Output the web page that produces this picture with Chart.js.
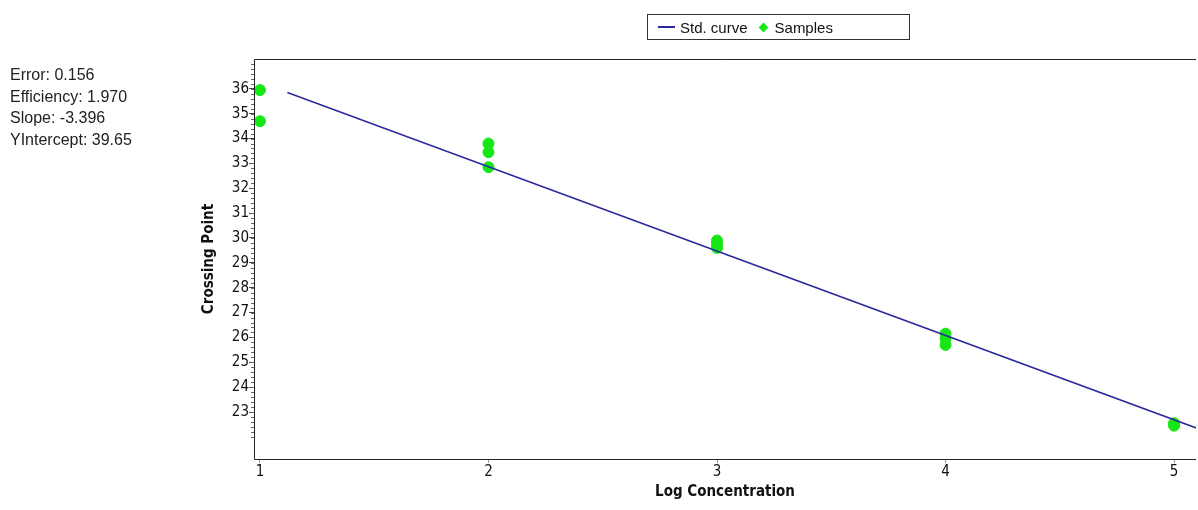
<!DOCTYPE html>
<html>
<head>
<meta charset="utf-8">
<script src="https://cdn.jsdelivr.net/npm/chart.js@4/dist/chart.umd.min.js"></script>
<style>
  html, body { margin: 0; padding: 0; background: #fff; overflow: hidden; }
  #wrap { position: relative; width: 1198px; height: 510px; }
  canvas { display: block; }
  #stats {
    position: absolute; left: 10px; top: 64px;
    font: 16px "Liberation Sans", Arial, sans-serif; color: #222; line-height: 21.5px;
  }
  #leyenda {
    position: absolute; left: 647px; top: 14px; width: 263px; height: 26px;
    border: 1px solid #333; box-sizing: border-box;
    font: 15px "Liberation Sans", Arial, sans-serif; color: #111;
    display: flex; align-items: center; padding-left: 10px;
  }
  .swLinea { display: inline-block; width: 17px; height: 2px; background: #2a2a9c; margin-right: 5px; }
  .swPunto { display: inline-block; width: 7px; height: 7px; background: #17e617; transform: rotate(45deg); margin: 0 8px 0 12px; }
</style>
</head>
<body>
<div id="wrap">
  <canvas id="grafica" width="1198" height="510"></canvas>
  <div id="stats"></div>
  <div id="leyenda"></div>
</div>
<script>
// Datos
const estadisticas = ['Error: 0.156', 'Efficiency: 1.970', 'Slope: -3.396', 'YIntercept: 39.65'];

const muestrasX = [1, 1, 2, 2, 2, 3, 3, 3, 4, 4, 4, 5, 5];
const muestrasY = [35.95, 34.7, 33.8, 33.45, 32.85, 29.9, 29.75, 29.6, 26.15, 25.95, 25.7, 22.55, 22.45];

// Recta estándar (extremos)
const curvaX = [1.12, 5.1];
const curvaY = [35.85, 22.35];

const ticksX = [1, 2, 3, 4, 5];
const ticksY = [23, 24, 25, 26, 27, 28, 29, 30, 31, 32, 33, 34, 35, 36];

const etiquetas = ['Std. curve', 'Samples'];

document.getElementById('stats').innerHTML = estadisticas.join('<br>');
document.getElementById('leyenda').innerHTML =
  '<span class="swLinea"></span>' + etiquetas[0] +
  '<span class="swPunto"></span>' + etiquetas[1];

const familia = '"Liberation Sans Narrow", "DejaVu Sans Condensed", "Liberation Sans", Arial';
const fuenteEje = { family: familia, size: 15 };
const fuenteTitulo = { family: familia, size: 15, weight: 'bold' };

// Marco del área y ticks menores del eje Y
const marco = {
  id: 'marco',
  afterDraw(chart) {
    const { ctx, chartArea: a } = chart;
    const y = chart.scales.y;
    ctx.save();
    ctx.strokeStyle = '#222';
    ctx.lineWidth = 1;
    ctx.beginPath();
    ctx.moveTo(a.right, a.top + 0.5);
    ctx.lineTo(a.left + 0.5, a.top + 0.5);
    ctx.lineTo(a.left + 0.5, a.bottom + 0.5);
    ctx.lineTo(a.right, a.bottom + 0.5);
    ctx.stroke();
    ctx.strokeStyle = '#666';
    ctx.beginPath();
    for (let i = 0; i <= 75; i++) {
      const v = 22 + i * 0.2;
      const py = Math.round(y.getPixelForValue(v)) + 0.5;
      ctx.moveTo(a.left - 3, py);
      ctx.lineTo(a.left, py);
    }
    ctx.stroke();
    ctx.restore();
  }
};

const ctx = document.getElementById('grafica').getContext('2d');
new Chart(ctx, {
  type: 'scatter',
  data: {
    datasets: [
      {
        label: etiquetas[0],
        data: curvaX.map((xi, i) => ({ x: xi, y: curvaY[i] })),
        borderColor: '#2a2a9c',
        backgroundColor: 'transparent',
        showLine: true,
        borderWidth: 1.5,
        pointRadius: 0
      },
      {
        label: etiquetas[1],
        data: muestrasX.map((xi, i) => ({ x: xi, y: muestrasY[i] })),
        backgroundColor: '#17e617',
        borderColor: '#17e617',
        pointRadius: 5.5,
        pointStyle: 'circle'
      }
    ]
  },
  options: {
    responsive: false,
    animation: false,
    layout: { autoPadding: false, padding: { left: 200, top: 59, right: 2, bottom: 9 } },
    plugins: { legend: { display: false }, tooltip: { enabled: false } },
    scales: {
      x: {
        type: 'linear',
        min: 0.974,
        max: 5.096,
        afterBuildTicks: (s) => { s.ticks = ticksX.map(v => ({ value: v })); },
        afterFit: (s) => { s.height = 42; s.paddingLeft = 0; s.paddingRight = 0; },
        border: { display: false },
        grid: { drawOnChartArea: false, tickLength: 4, color: '#999' },
        ticks: { color: '#111', font: fuenteEje, padding: 0 },
        title: { display: true, text: 'Log Concentration', color: '#111', font: fuenteTitulo, padding: { top: 0, bottom: 0 } }
      },
      y: {
        type: 'linear',
        min: 21.11,
        max: 37.2,
        afterBuildTicks: (s) => { s.ticks = ticksY.map(v => ({ value: v })); },
        afterFit: (s) => { s.width = 54; s.paddingTop = 0; s.paddingBottom = 0; },
        border: { display: false },
        grid: { drawOnChartArea: false, tickLength: 5, color: '#444' },
        ticks: { color: '#111', font: fuenteEje, padding: 0 },
        title: { display: true, text: 'Crossing Point', color: '#111', font: fuenteTitulo, padding: { top: 0, bottom: 4 } }
      }
    }
  },
  plugins: [marco]
});
</script>
</body>
</html>
